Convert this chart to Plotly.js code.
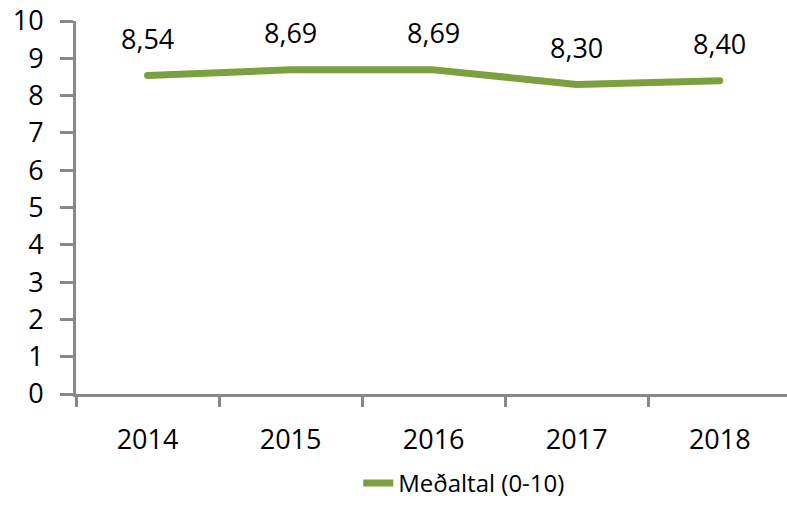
<!DOCTYPE html>
<html><head><meta charset="utf-8">
<script src="https://cdn.plot.ly/plotly-3.0.1.min.js"></script>
<style>html,body{margin:0;padding:0;background:#fff}#chart{width:787px;height:506px}
#chart .scatterlayer path.js-line{stroke-linecap:round;stroke-linejoin:round}</style>
</head><body><div id="chart"></div>
<script>
const years = ['2014','2015','2016','2017','2018'];
const values = [8.54, 8.69, 8.69, 8.30, 8.40];
const labels = ['8,54','8,69','8,69','8,30','8,40'];
const seriesName = 'Meðaltal (0-10)';
const yTicks = [0,1,2,3,4,5,6,7,8,9,10];

const font = "Open Sans, Noto Sans, sans-serif";
const trace = {
  x: years, y: values, type: 'scatter', mode: 'lines', name: seriesName,
  line: {color: '#7BA03F', width: 7},
  hoverinfo: 'skip'
};
const annotations = years.map((yr, i) => ({
  x: i, xref: 'x', y: values[i], yref: 'y', text: labels[i], showarrow: false,
  yanchor: 'middle', yshift: 37, font: {family: font, size: 27, color: '#000'}
}));
const layout = {
  width: 787, height: 506,
  margin: {l: 76, r: 0, t: 21, b: 106},
  paper_bgcolor: '#fff', plot_bgcolor: '#fff',
  showlegend: true,
  legend: {orientation: 'h', x: 0.397, xanchor: 'left', y: -0.24, yanchor: 'middle',
    font: {family: font, size: 24, color: '#000'}},
  xaxis: {type: 'category', range: [-0.5, 4.47], tickson: 'boundaries', ticks: 'outside', ticklen: 10,
    tickwidth: 3, tickcolor: '#888', showline: true, linecolor: '#888', linewidth: 3,
    showgrid: false, zeroline: false, ticklabelstandoff: 20,
    tickfont: {family: font, size: 27, color: '#000'}},
  yaxis: {range: [0, 10], tickvals: yTicks, ticktext: yTicks.map(String), ticks: 'outside', ticklen: 13,
    tickwidth: 3, tickcolor: '#888', showline: true, linecolor: '#888', linewidth: 3,
    showgrid: false, zeroline: false, ticklabelstandoff: 11,
    tickfont: {family: font, size: 27, color: '#000'}},
  annotations: annotations
};
Plotly.newPlot('chart', [trace], layout, {displayModeBar: false, staticPlot: true});
</script></body></html>
